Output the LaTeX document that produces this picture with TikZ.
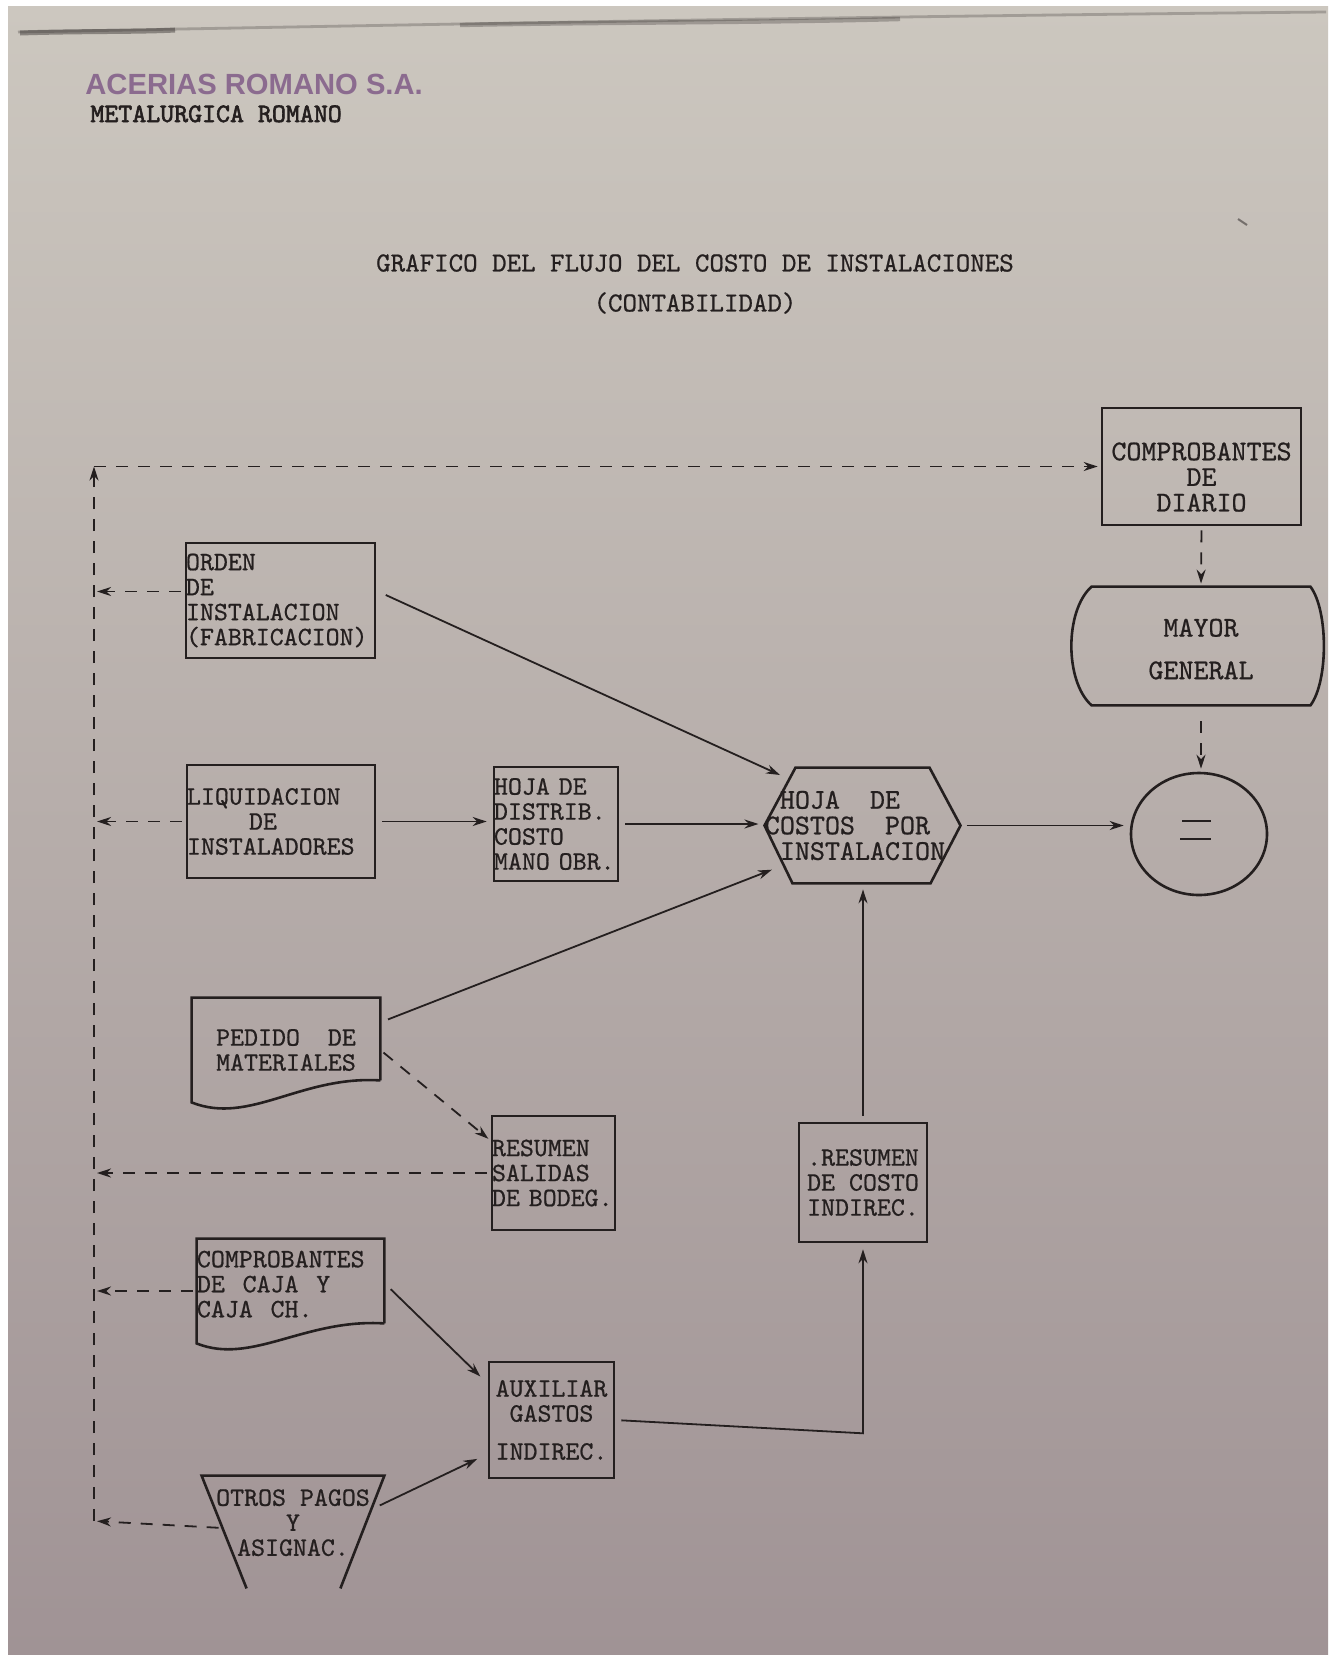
\documentclass[tikz,border=0pt]{standalone}
\usepackage{fontspec}
\newfontfamily\stampfont{Liberation Sans}
\newfontfamily\tw{lmmono10-regular.otf}[FakeBold=0.7]
\newfontfamily\twb{lmmono10-regular.otf}[FakeBold=2.2]
\usetikzlibrary{arrows.meta,calc,shapes.geometric}
\definecolor{ink}{RGB}{36,31,31}
\definecolor{stampc}{RGB}{118,78,128}
\definecolor{paperT}{RGB}{204,199,191}
\definecolor{paperM}{RGB}{186,179,175}
\definecolor{paperB}{RGB}{160,147,149}
\begin{document}
\begin{tikzpicture}[x=0.5pt,y=-0.5pt,
  every node/.style={text=ink, inner sep=0pt},
  tt/.style={font=\fontsize{13.3}{12.5}\selectfont\tw},
  ttL/.style={font=\fontsize{14.3}{12.8}\selectfont\tw},
  shp/.style={draw=ink, line width=1.3pt},
  tbox/.style={shp, rectangle, align=left},
  flow/.style={draw=ink, line width=0.9pt, -{Stealth[length=7pt,width=4.5pt]}, shorten >=3pt, shorten <=3pt},
  dflow/.style={flow, dash pattern=on 6pt off 5pt, shorten >=1.5pt, shorten <=2pt},
]
\useasboundingbox (0,0) rectangle (1335,1655);
\fill[white] (0,0) rectangle (1335,1655);
\shade[top color=paperT, middle color=paperM, bottom color=paperB] (8,6) rectangle (1328,1655);
% top streak of the sheet
\draw[ink, opacity=0.25, line width=1.4pt] (18,32) .. controls (350,26) and (800,17) .. (1326,12);
\draw[ink, opacity=0.4, line width=2.5pt] (20,33) .. controls (80,31) and (140,32) .. (175,30);
\draw[ink, opacity=0.28, line width=2.2pt] (460,25) .. controls (600,22) and (750,23) .. (900,19);
\draw[ink, opacity=0.5, line width=1pt] (1238,219) -- (1247,225);

% header
\node[anchor=base west, text=stampc, opacity=0.75, font=\stampfont\bfseries\fontsize{14.6}{15}\selectfont] (stamp) at (85,94) {ACERIAS ROMANO S.A.};
\node[anchor=base west, font=\fontsize{13.3}{13}\selectfont\twb] (firm) at (90,122) {METALURGICA ROMANO};
\node[align=center, font=\fontsize{13.8}{20}\selectfont\tw] (title) at (695,284) {GRAFICO DEL FLUJO DEL COSTO DE INSTALACIONES\\(CONTABILIDAD)};

% right column
\node[tbox, ttL, minimum width=99.5pt, minimum height=58.5pt, text width=99.5pt, align=center] (diario) at (1201.5,466.5) {\rule{0pt}{19.5pt}COMPROBANTES\\DE\\DIARIO};
\node[ttL, minimum width=109pt, minimum height=59pt, align=center] (mayor) at (1201,646) {\rule{0pt}{12pt}MAYOR\\[8.5pt]GENERAL};
\draw[shp] (mayor.north west) -- (mayor.north east) .. controls +(18,24) and +(18,-24) .. (mayor.south east) -- (mayor.south west) .. controls +(-27,-24) and +(-27,24) .. cycle;
\node[ellipse, shp, minimum width=68pt, minimum height=61pt] (eq) at (1199,834) {};
\draw[ink, line width=1.4pt] ($(eq.center)+(-17,-13)$) -- ++(29,0);
\draw[ink, line width=1.4pt] ($(eq.center)+(-19,5)$) -- ++(31,0);

% hexagon
\node[ttL, minimum width=95.5pt, minimum height=57.5pt, align=left] (hoja) at (862.5,825.5) {\hphantom{X}HOJA~~DE\\COSTOS~~POR\\\hphantom{X}INSTALACION\hphantom{X}};
\draw[shp] (hoja.west) -- ($(hoja.north west)+(31,0)$) -- ($(hoja.north east)+(-31,0)$) -- (hoja.east) -- ($(hoja.south east)+(-30,0)$) -- ($(hoja.south west)+(28,0)$) -- cycle;

% left boxes
\node[tbox, tt, minimum width=94.5pt, minimum height=57.5pt, text width=94.5pt] (orden) at (280.5,600.5) {ORDEN\\DE\\INSTALACION\\(FABRICACION)};
\node[tbox, tt, minimum width=94pt, minimum height=56.5pt, text width=94pt] (liq) at (281,821.5) {LIQUIDACION\\\hspace*{31pt}DE\\INSTALADORES};
\node[tbox, tt, minimum width=62pt, minimum height=57pt, text width=62pt] (distrib) at (556,824) {HOJA~DE\\DISTRIB.\\COSTO\\MANO~OBR.};

% pedido (document)
\node[tt, minimum width=94pt, minimum height=52pt, align=center] (pedido) at (286,1050) {PEDIDO~~DE\\MATERIALES};
\draw[shp] ($(pedido.south east)+(0,-22)$) -- (pedido.north east) -- (pedido.north west) -- (pedido.south west) .. controls ($(pedido.south west)+(58,23)$) and ($(pedido.south east)+(-80,-27)$) .. ($(pedido.south east)+(0,-22)$);

\node[tbox, tt, minimum width=61.5pt, minimum height=57pt, text width=61.5pt] (salidas) at (553.5,1173) {RESUMEN\\SALIDAS\\DE~BODEG.};
\node[tbox, tt, minimum width=64pt, minimum height=59.5pt] (costo) at (863,1182.5) {.RESUMEN\\DE~COSTO\\INDIREC.};

% caja (document)
\node[tt, minimum width=93.5pt, minimum height=52pt, text width=93.5pt, align=left] (caja) at (290.5,1291) {COMPROBANTES\\DE~~CAJA~~Y\\CAJA~~CH.\rule[-7pt]{0pt}{7pt}};
\draw[shp] ($(caja.south east)+(0,-20)$) -- (caja.north east) -- (caja.north west) -- (caja.south west) .. controls ($(caja.south west)+(55,22)$) and ($(caja.south east)+(-80,-25)$) .. ($(caja.south east)+(0,-20)$);

\node[tbox, tt, minimum width=62.5pt, minimum height=58pt, text width=62.5pt, align=center] (aux) at (551.5,1420) {AUXILIAR\\GASTOS\\[6.5pt]INDIREC.};

% otros (trapezoid, open at the bottom)
\node[tt, minimum width=91pt, minimum height=56pt, align=center] (otros) at (293,1532) {OTROS~PAGOS\\Y\\ASIGNAC.\rule[-9.5pt]{0pt}{9.5pt}};
\draw[shp] ($(otros.south west)+(45,0)$) -- (otros.north west) -- (otros.north east) -- ($(otros.south east)+(-44,0)$);

% left dashed return line
\coordinate (lb) at (94,1521);
\coordinate (lt) at (lb |- diario.west);
\draw[dflow, shorten >=0pt, shorten <=0pt] (lb) -- (lt);
\draw[dflow, shorten <=0pt] (lt) -- (diario.west);
\coordinate (o1) at ($(orden.west)+(0,-9)$);
\draw[dflow] (o1) -- (o1 -| lb);
\draw[dflow] (liq.west) -- (liq.west -| lb);
\draw[dflow] (salidas.west) -- (salidas.west -| lb);
\draw[dflow] (caja.west) -- (caja.west -| lb);
\coordinate (o5) at ($(otros.west)+(21,-4)$);
\draw[dflow] (o5) -- (lb);

% right dashed
\draw[dflow] (diario.south) -- (mayor.north);
\draw[dflow, shorten <=8pt] (mayor.south) -- (mayor.south |- eq.north);

% dashed pedido -> salidas
\draw[dflow] (pedido.east) -- ($(salidas.north west)+(0,26)$);

% solid flows
\draw[flow] ($(orden.east)+(4,-8)$) -- ($(hoja.center)+(-77,-48)$);
\draw[flow] (liq.east) -- (liq.east -| distrib.west);
\draw[flow] (distrib.east) -- (distrib.east -| hoja.west);
\draw[flow] ($(pedido.north east)+(2,24)$) -- ($(hoja.center)+(-85,42)$);
\draw[flow] (hoja.east) -- (hoja.east -| eq.west);
\draw[flow] (costo.north) -- (costo.north |- hoja.south);
\draw[flow] (aux.east) -- ($(costo.south)+(0,190)$) -- (costo.south);
\draw[flow] ($(caja.east)+(2,-6)$) -- ($(aux.north west)+(-3,20)$);
\draw[flow] ($(otros.east)+(-10,-24)$) -- ($(aux.south west)+(-5,-23)$);
\end{tikzpicture}
\end{document}
